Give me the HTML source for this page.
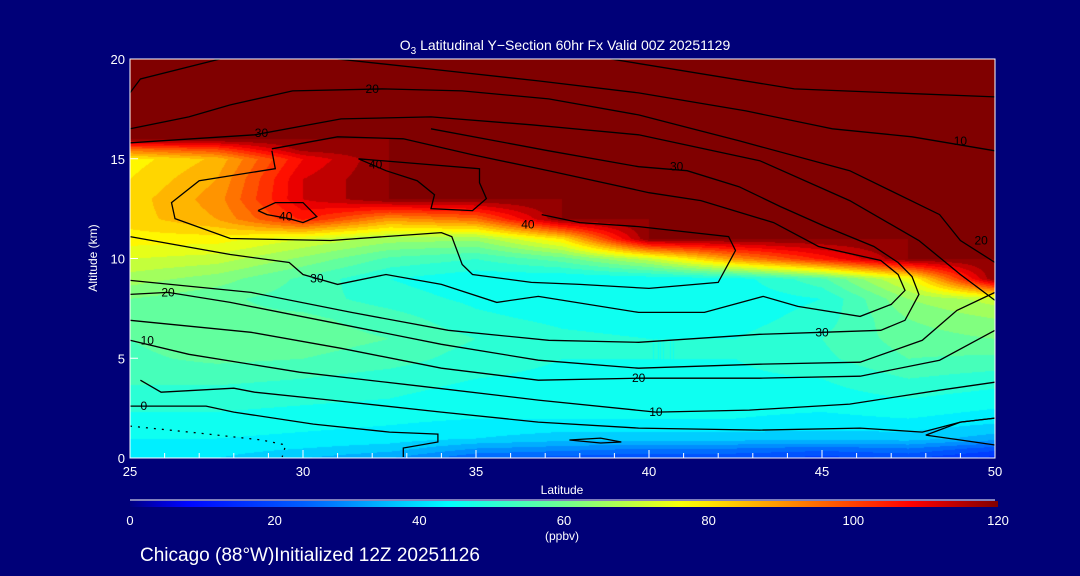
<!DOCTYPE html>
<html><head><meta charset="utf-8"><style>
html,body{margin:0;padding:0;background:#000078;}
#wrap{position:relative;width:1080px;height:576px;background:#000078;overflow:hidden;font-family:"Liberation Sans",sans-serif;color:#fff;}
canvas{position:absolute;left:130px;top:59px;}
svg{position:absolute;left:0;top:0;}
</style></head><body>
<div id="wrap">
<canvas id="field" width="865" height="399"></canvas>
<svg id="svg" width="1080" height="576"></svg>
</div>
<script>
// ---- data ----
const lats = [25,27.5,30,32.5,35,37.5,40,42.5,45,47.5,50];
const alts = [0,0.5,1,2,3,4,5,6,7,8,9,10,11,12,13,14,15,15.5,16,20];
const ozone = [
[40,40,36,32,24,22,20,20,18,20,14],
[42,42,40,38,32,30,28,28,26,28,22],
[44,44,43,42,40,38,38,38,38,38,34],
[47,47,46,45,44,44,44,44,43,44,42],
[50,50,49,48,46,46,46,46,46,48,46],
[53,53,52,50,48,47,47,47,48,52,50],
[55,57,56,54,50,48,48,48,51,56,55],
[56,59,58,56,52,49,48,48,52,58,60],
[56,57,57,54,49,47,46,46,50,60,64],
[60,57,54,50,47,45,45,45,48,64,70],
[66,62,55,48,45,44,45,46,55,74,120],
[72,70,63,55,52,58,70,90,105,120,120],
[78,78,72,66,65,80,120,120,120,120,120],
[82,88,105,90,95,120,120,120,120,120,120],
[82,90,112,120,120,120,120,120,120,120,120],
[80,88,112,120,120,120,120,120,120,120,120],
[78,85,108,120,120,120,120,120,120,120,120],
[95,100,118,120,120,120,120,120,120,120,120],
[120,120,120,120,120,120,120,120,120,120,120],
[120,120,120,120,120,120,120,120,120,120,120]];
const xTicks = [25,30,35,40,45,50];
const yTicks = [0,5,10,15,20];
const cbTicks = [0,20,40,60,80,100,120];
const contours = [
 {lat:[25,25.3,27.6], alt:[18.3,19.0,20]},
 {lat:[38.9,44.2,50], alt:[20,18.5,18.1]},
 {lat:[31.0,34.2,36.8,39.7,42.8,45.3,47.6,50], alt:[20,19.4,18.9,18.3,17.4,16.5,16.1,15.4]},
 {lat:[25,26.7,27.9,29.7,32.3,34.6,37.1,39.7,42.6,45.8,48.4,49.0,50], alt:[16.5,17.1,17.7,18.4,18.5,18.4,18.0,17.2,15.9,14.4,12.2,10.9,9.8]},
 {lat:[25,28.6,31.1,33.7,36.6,39.7,43.2,45.8,47.8,49.0,50], alt:[15.8,16.2,17.0,17.1,16.7,16.2,14.9,12.9,10.9,9.2,7.9]},
 {lat:[33.7,37.1,39.7,41.1,42.6,43.8,45.1,46.5,47.2,47.6,47.8,47.4,46.7,45.0,43.2,39.7,37.1,34.2,31.4,28.5,25], alt:[16.5,15.4,14.6,14.4,13.6,12.6,11.6,10.6,9.8,9.1,8.2,6.9,6.4,6.3,6.2,5.8,5.9,6.4,7.3,8.3,8.9]},
 {lat:[29.1,31.0,32.9,34.9,37.1,40.0,41.5,43.6,44.9,46.7,47.2,47.4,47.0,46.1,44.3,43.3,41.6,39.7,36.8,35.6,34.0,32.4,31.0,30.0,29.6,27.9,25], alt:[15.5,16.1,16.0,15.2,14.4,13.3,12.9,11.8,10.6,9.9,9.2,8.4,7.7,7.1,7.6,8.1,7.3,7.3,8.1,7.8,8.7,9.2,8.7,9.2,9.8,10.2,11.1]},
 {lat:[29.1,29.2,27.0,26.2,26.3,27.9,30.8,34.0,34.3,34.6,34.9,36.6,38.0,40.0,42.0,42.5,42.3,39.7,38.0,36.9], alt:[15.4,14.5,13.9,12.8,12.0,11.0,10.9,11.3,11.1,9.7,9.2,8.8,8.7,8.5,8.8,10.4,11.1,11.6,11.8,12.2]},
 {lat:[31.6,32.4,33.3,33.8,33.7,34.9,35.3,35.1,35.1,31.6], alt:[15.0,14.4,13.9,13.2,12.5,12.4,13.0,13.8,14.5,15.0]},
 {lat:[28.7,29.2,30.0,30.4,30.0,29.6,28.96,28.7], alt:[12.4,12.8,12.8,12.1,11.8,12.0,12.2,12.4]},
 {lat:[25,26.1,27.9,31.1,34.0,36.8,39.7,43.2,46.1,47.9,48.9,50], alt:[8.2,8.3,7.8,6.7,5.7,4.9,4.5,4.7,4.8,5.9,7.4,8.3]},
 {lat:[25,28.5,31.1,34.0,36.8,39.7,43.2,46.1,48.4,50], alt:[6.9,6.3,5.5,4.5,3.9,4.0,4.0,4.1,4.9,6.4]},
 {lat:[25,26.7,29.9,33.4,36.8,40.2,42.9,45.8,48.4,50], alt:[5.9,5.2,4.3,3.6,2.9,2.3,2.4,2.7,3.4,3.8]},
 {lat:[25.3,25.9,28.0,28.6,30.8,34.0,36.8,39.7,43.2,46.1,47.9,49.0,50], alt:[3.9,3.3,3.5,3.3,2.9,2.3,1.8,1.5,1.4,1.5,1.3,1.8,2.0]},
 {lat:[25,27.2,28.0,30.3,32.5,33.9,33.9,32.9,32.9], alt:[2.6,2.6,2.3,1.7,1.3,1.2,0.8,0.5,0.05]},
 {lat:[50,49.0,48.0,49.0,50], alt:[0.65,0.9,1.15,1.8,2.0]},
 {lat:[37.7,38.6,39.2,38.6,37.7], alt:[0.9,1.0,0.8,0.75,0.9]}
];
const dottedLat = [25,27.0,28.8,29.5,29.4];
const dottedAlt = [1.6,1.25,0.9,0.65,0.05];
const labelText = ["10","20","20","30","30","30","30","40","40","40","20","20","10","10","0"];
const labelLat = [49.0,32.0,49.6,28.8,40.8,45.0,30.4,36.5,32.1,29.5,26.1,39.7,25.5,40.2,25.4];
const labelAlt = [15.9,18.5,10.9,16.3,14.6,6.3,9.0,11.7,14.7,12.1,8.3,4.0,5.9,2.3,2.6];

// ---- axes ----
const X0=130,X1=995,Y0=458,Y1=59;
const xs = v => X0+(v-25)/25*(X1-X0);
const ys = v => Y0-(v/20)*(Y0-Y1);
const cbx = v => 130+v/120*(998-130);

const stops=[[0,[0,0,128]],[7,[0,0,255]],[25,[0,100,255]],[44,[0,255,255]],[60,[112,255,144]],[77,[255,255,0]],[108,[255,0,0]],[120,[128,0,0]]];
function cmap(v){v=Math.max(0,Math.min(120,v));for(let i=1;i<stops.length;i++){if(v<=stops[i][0]){const a=stops[i-1],b=stops[i],t=(v-a[0])/(b[0]-a[0]);return a[1].map((c,k)=>Math.round(c+(b[1][k]-c)*t));}}return stops[stops.length-1][1];}
function idx(arr,v){for(let i=0;i<arr.length-1;i++){if(v<=arr[i+1])return i;}return arr.length-2;}
function field(la,al){const i=idx(lats,la),j=idx(alts,al);const tx=(la-lats[i])/(lats[i+1]-lats[i]),ty=(al-alts[j])/(alts[j+1]-alts[j]);
 const a=ozone[j][i],b=ozone[j][i+1],c=ozone[j+1][i],d=ozone[j+1][i+1];return (a*(1-tx)+b*tx)*(1-ty)+(c*(1-tx)+d*tx)*ty;}

const cv=document.getElementById('field'),ctx=cv.getContext('2d');
const img=ctx.createImageData(865,399);
for(let py=0;py<399;py++){const al=(Y0-(py+59))/(Y0-Y1)*20;for(let px=0;px<865;px++){const la=25+(px+0.5)/865*25;let v=field(la,Math.max(0,al));v=Math.floor(v/4)*4+2;const c=cmap(v);const o=(py*865+px)*4;img.data[o]=c[0];img.data[o+1]=c[1];img.data[o+2]=c[2];img.data[o+3]=255;}}
ctx.putImageData(img,0,0);

const svg=document.getElementById('svg');const NS='http://www.w3.org/2000/svg';
function mk(tag,attrs){const e=document.createElementNS(NS,tag);for(const k in attrs)e.setAttribute(k,attrs[k]);svg.appendChild(e);return e;}
contours.forEach((c,ci)=>{const pts=c.lat.map((l,k)=>xs(l).toFixed(1)+','+ys(c.alt[k]).toFixed(1)).join(' ');
 const p=mk('polyline',{points:pts,fill:'none',stroke:'#000','stroke-width':1.3});
 
 });
{const pts=dottedLat.map((l,k)=>xs(l).toFixed(1)+','+ys(dottedAlt[k]).toFixed(1)).join(' ');
 const p=mk('polyline',{points:pts,fill:'none',stroke:'#000','stroke-width':1.3,'stroke-dasharray':'2 6'});
 
 }
labelText.forEach((t,k)=>{const e=mk('text',{x:xs(labelLat[k]),y:ys(labelAlt[k])+4,'text-anchor':'middle','font-size':12,fill:'#000'});e.textContent=t;
 
 });

// frame
const fr=mk('rect',{x:X0,y:Y1,width:X1-X0,height:Y0-Y1,fill:'none',stroke:'#fff','stroke-width':1});


for(let l=25;l<=50;l++){const major=xTicks.includes(l);const t=mk('line',{x1:xs(l),x2:xs(l),y1:Y0,y2:Y0-(major?8:5),stroke:'#fff'});
 
 }
xTicks.forEach(l=>{const e=mk('text',{x:xs(l),y:476,'text-anchor':'middle','font-size':13,fill:'#fff'});e.textContent=l;
 
 });
yTicks.forEach(a=>{const e=mk('text',{x:125,y:ys(a)+5,'text-anchor':'end','font-size':13,fill:'#fff'});e.textContent=a;
 
 
 const t=mk('line',{x1:X0,x2:X0+8,y1:ys(a),y2:ys(a),stroke:'#fff'});
 
 });

// colorbar
const defs=mk('defs',{});const lg=document.createElementNS(NS,'linearGradient');lg.setAttribute('id','cbg');defs.appendChild(lg);
for(let v=0;v<=120;v+=4){const s=document.createElementNS(NS,'stop');s.setAttribute('offset',(v/120*100)+'%');s.setAttribute('stop-color','rgb('+cmap(v).join(',')+')');lg.appendChild(s);}
const cbl=mk('line',{x1:130,x2:995,y1:500,y2:500,stroke:'#fff'});


const cb=mk('rect',{x:130,y:501,width:868,height:6,fill:'url(#cbg)'});


cbTicks.forEach(v=>{const e=mk('text',{x:cbx(v),y:525,'text-anchor':'middle','font-size':13,fill:'#fff'});e.textContent=v;
 
 });
</script>
<svg width="1080" height="576" style="position:absolute;left:0;top:0;pointer-events:none">
<text x="565" y="50" text-anchor="middle" font-size="14" fill="#fff" font-family="Liberation Sans, sans-serif">O<tspan font-size="10" dy="4">3</tspan><tspan dy="-4"> Latitudinal Y−Section 60hr  Fx Valid 00Z 20251129</tspan></text>
<text x="97" y="258" text-anchor="middle" font-size="12" fill="#fff" transform="rotate(-90 97 258)" font-family="Liberation Sans, sans-serif">Altitude (km)</text>
<text x="562" y="494" text-anchor="middle" font-size="12" fill="#fff" font-family="Liberation Sans, sans-serif">Latitude</text>
<text x="562" y="540" text-anchor="middle" font-size="12" fill="#fff" font-family="Liberation Sans, sans-serif">(ppbv)</text>
<text x="140" y="561" font-size="19" fill="#fff" font-family="Liberation Sans, sans-serif">Chicago (88°W)Initialized 12Z 20251126</text>
</svg>
</body></html>
